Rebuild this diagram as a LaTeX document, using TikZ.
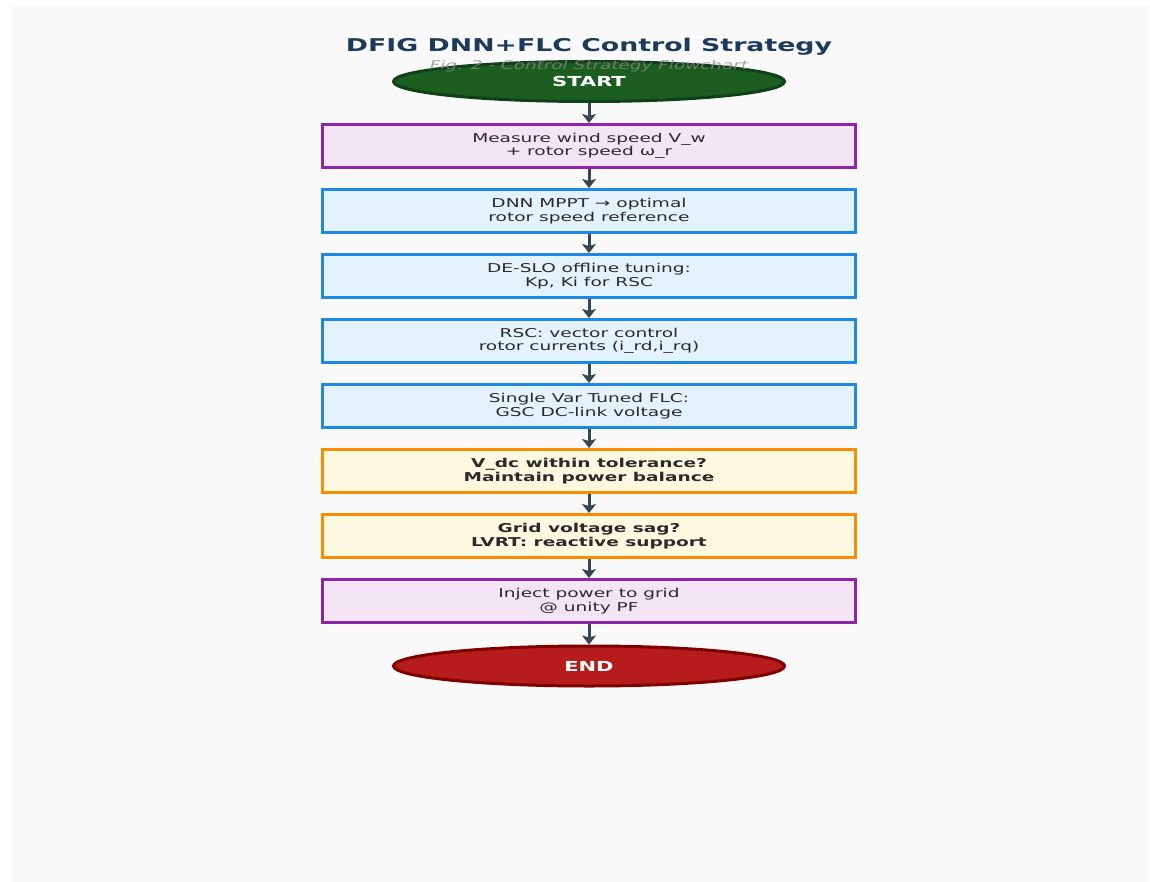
\documentclass[tikz,border=0pt]{standalone}
\usepackage{fontspec}
\setmainfont[FakeStretch=1.52]{DejaVu Sans}
\usetikzlibrary{arrows.meta,shapes.geometric}
\definecolor{bgc}{HTML}{F9F9F9}
\definecolor{titlec}{HTML}{1B3A5C}
\definecolor{subc}{HTML}{8A8A8A}
\definecolor{startf}{HTML}{1B5E20}
\definecolor{startd}{HTML}{10401A}
\definecolor{endf}{HTML}{B71C1C}
\definecolor{endd}{HTML}{7F0000}
\definecolor{purpd}{HTML}{8E24AA}
\definecolor{purpf}{HTML}{F3E5F5}
\definecolor{blued}{HTML}{1E88E5}
\definecolor{bluef}{HTML}{E3F2FD}
\definecolor{orand}{HTML}{FB8C00}
\definecolor{oranf}{HTML}{FFF8E1}
\definecolor{txtc}{HTML}{2A2A2A}
\definecolor{arrc}{HTML}{37474F}
\tikzset{
  procbox/.style={draw, line width=3pt, minimum width=533pt, minimum height=43pt,
    inner sep=0pt, align=center, text=txtc, font=\fontsize{12.2}{13.5}\selectfont},
  purpbox/.style={procbox, draw=purpd, fill=purpf},
  bluebox/.style={procbox, draw=blued, fill=bluef},
  oranbox/.style={procbox, draw=orand, fill=oranf, font=\fontsize{12.2}{13.5}\selectfont\bfseries},
  term/.style={ellipse, line width=3pt, minimum width=391pt, minimum height=40pt,
    inner sep=0pt, text=white, font=\fontsize{13.8}{15}\selectfont\bfseries},
  flow/.style={draw=arrc, line width=3pt, -{Stealth[length=9pt,width=14pt,inset=2pt]}}
}
\begin{document}
\begin{tikzpicture}[x=1pt,y=-1pt]
\useasboundingbox (0,0) rectangle (1150,882);
\fill[bgc] (12,6) rectangle (1148,882);
\node[text=titlec, font=\fontsize{17.6}{20}\selectfont\bfseries] (title) at (589,47) {DFIG DNN+FLC Control Strategy};
\node[term, draw=startd, fill=startf] (start) at (589,81.5) {START};
\node[text=subc, opacity=0.75, font=\fontsize{12.1}{14}\selectfont\itshape] (sub) at (589,66) {Fig. 2 - Control Strategy Flowchart};
\node[purpbox] (b1) at (589,146) {Measure wind speed V\_w\\+ rotor speed ω\_r};
\node[bluebox] (b2) at (589,211) {DNN MPPT → optimal\\rotor speed reference};
\node[bluebox] (b3) at (589,276) {DE-SLO offline tuning:\\Kp, Ki for RSC};
\node[bluebox] (b4) at (589,341) {RSC: vector control\\rotor currents (i\_rd,i\_rq)};
\node[bluebox] (b5) at (589,406) {Single Var Tuned FLC:\\GSC DC-link voltage};
\node[oranbox] (b6) at (589,471) {V\_dc within tolerance?\\Maintain power balance};
\node[oranbox] (b7) at (589,536) {Grid voltage sag?\\LVRT: reactive support};
\node[purpbox] (b8) at (589,601) {Inject power to grid\\@ unity PF};
\node[term, draw=endd, fill=endf] (end) at (589,666) {END};
\draw[flow] (start) -- (b1);
\draw[flow] (b1) -- (b2);
\draw[flow] (b2) -- (b3);
\draw[flow] (b3) -- (b4);
\draw[flow] (b4) -- (b5);
\draw[flow] (b5) -- (b6);
\draw[flow] (b6) -- (b7);
\draw[flow] (b7) -- (b8);
\draw[flow] (b8) -- (end);
\end{tikzpicture}
\end{document}
